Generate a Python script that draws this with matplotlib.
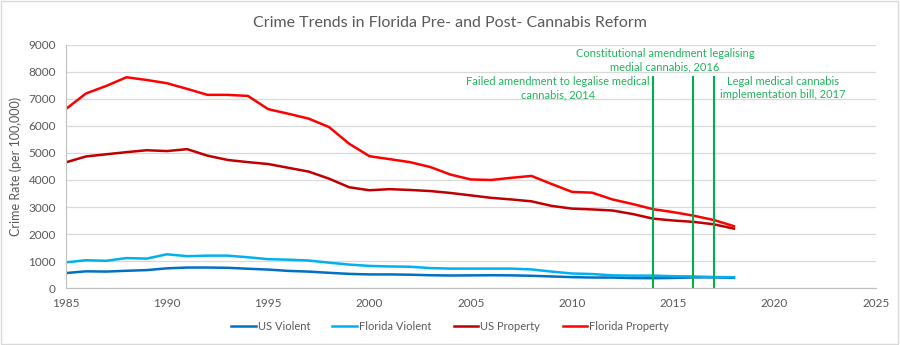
import matplotlib.pyplot as plt
from matplotlib.patches import Rectangle

years = list(range(1985, 2019))

us_violent = [555, 620, 610, 640, 665, 730, 760, 760, 750, 715, 685, 635, 610, 565, 525,
              505, 505, 495, 475, 465, 470, 475, 470, 455, 430, 405, 390, 390, 370, 365,
              375, 395, 395, 380]
fl_violent = [950, 1030, 1010, 1110, 1090, 1250, 1180, 1200, 1200, 1140, 1070, 1050, 1020,
              940, 870, 820, 800, 790, 740, 720, 720, 720, 720, 690, 610, 540, 520, 470,
              460, 460, 440, 430, 410, 400]
us_property = [4650, 4870, 4950, 5030, 5100, 5070, 5140, 4900, 4740, 4660, 4590, 4450, 4310,
               4050, 3730, 3620, 3660, 3630, 3590, 3520, 3430, 3340, 3280, 3210, 3040, 2940,
               2910, 2870, 2740, 2570, 2500, 2450, 2360, 2200]
fl_property = [6620, 7200, 7480, 7800, 7700, 7580, 7370, 7150, 7150, 7110, 6620, 6450, 6270,
               5960, 5340, 4880, 4770, 4660, 4480, 4200, 4020, 4000, 4080, 4150, 3850, 3560,
               3530, 3280, 3110, 2920, 2810, 2680, 2520, 2290]

event_years = [2014, 2016, 2017]
event_texts = ["Failed amendment to legalise medical\ncannabis, 2014",
               "Constitutional amendment legalising\nmedial cannabis, 2016",
               "Legal medical cannabis\nimplementation bill, 2017"]
text_pos = [(2009.3, 7400), (2014.6, 8420), (2020.4, 7400)]

plt.rcParams['font.family'] = ['Lato', 'DejaVu Sans']
grey = '#595959'
green = '#00B050'

fig = plt.figure(figsize=(9, 3.45), dpi=100)
fig.patches.append(Rectangle((0.001, 0.002), 0.997, 0.995, transform=fig.transFigure,
                             fill=False, edgecolor='#d9d9d9', lw=1))
ax = fig.add_axes([0.073, 0.165, 0.9, 0.705])

ax.plot(years, us_violent, color='#0070C0', lw=1.8, label='US Violent')
ax.plot(years, fl_violent, color='#00B0F0', lw=1.8, label='Florida Violent')
ax.plot(years, us_property, color='#C00000', lw=1.8, label='US Property')
ax.plot(years, fl_property, color='#FF0000', lw=1.8, label='Florida Property')

for yr in event_years:
    ax.plot([yr, yr], [0, 7800], color=green, lw=1.5)
for txt, (x, y) in zip(event_texts, text_pos):
    ax.text(x, y, txt, color='#22B35E', fontsize=8, ha='center', va='center',
            linespacing=1.3)

ax.set_xlim(1985, 2025)
ax.set_ylim(0, 9000)
ax.set_xticks(range(1985, 2026, 5))
ax.set_yticks(range(0, 9001, 1000))
ax.grid(axis='y', color='#d9d9d9', lw=0.9)
ax.set_axisbelow(True)
for s in ['top', 'right']:
    ax.spines[s].set_visible(False)
for s in ['left', 'bottom']:
    ax.spines[s].set_color('#bfbfbf')
ax.tick_params(colors=grey, labelsize=8.5, length=0, pad=7)
ax.set_ylabel('Crime Rate (per 100,000)', color=grey, fontsize=9, labelpad=5)

fig.suptitle('Crime Trends in Florida Pre- and Post- Cannabis Reform', y=0.955,
             fontsize=11.5, color=grey)
fig.legend(loc='center', bbox_to_anchor=(0.5, 0.055), ncol=4, frameon=False,
           fontsize=8, labelcolor=grey, handlelength=2.2, columnspacing=2.0, handletextpad=0.2)

fig.savefig('out.png', dpi=100)
